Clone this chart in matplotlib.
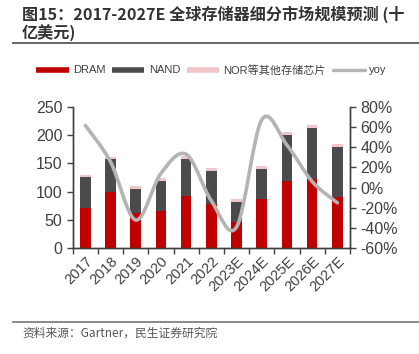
import numpy as np
import matplotlib
matplotlib.use("Agg")
import matplotlib.pyplot as plt
from matplotlib.path import Path
from matplotlib.patches import PathPatch
from matplotlib.lines import Line2D

plt.rcParams['font.family'] = ['Liberation Sans', 'Noto Sans CJK SC', 'DejaVu Sans']

# data (billion USD / yoy %)
years = ['2017', '2018', '2019', '2020', '2021', '2022',
         '2023E', '2024E', '2025E', '2026E', '2027E']
dram = [72, 100, 62, 65, 93, 78, 46, 87, 119, 122, 91]
nand = [53, 58, 43, 54, 65, 58, 35, 53, 81, 90, 88]
nor_other = [4, 4, 4.5, 4.5, 5, 6, 5.5, 5, 5, 5, 5]
yoy = [61.5, 25.6, -32, 14, 33, -13, -39, 67, 42, 6, -15]

c_dram = '#c00000'
c_nand = '#4b4b4d'
c_nor = '#f2c6c9'
c_yoy = '#b4b4b4'
c_txt = '#404040'

fig = plt.figure(figsize=(4.19, 3.54), dpi=100)
ax = fig.add_axes([0.1735, 0.2986, 0.8353 - 0.1735, 0.6986 - 0.2986])
ax2 = ax.twinx()

x = np.arange(len(years))
w = 0.42
dram = np.array(dram, dtype=float)
nand = np.array(nand, dtype=float)
nor_other = np.array(nor_other, dtype=float)
ax.bar(x, dram, w, color=c_dram, zorder=2)
ax.bar(x, nand, w, bottom=dram, color=c_nand, zorder=2)
ax.bar(x, nor_other, w, bottom=dram + nand, color=c_nor, zorder=2)

ax.set_xlim(-0.5, len(years) - 0.5)
ax.set_ylim(0, 250)
ax.set_yticks(range(0, 251, 50))
ax2.set_ylim(-60, 80)
ax2.set_yticks(range(-60, 81, 20))
ax2.set_yticklabels(['%d%%' % v for v in range(-60, 81, 20)])

# smooth yoy curve (Catmull-Rom as cubic bezier, like a spreadsheet smoothed line)
pts = np.column_stack([x, yoy]).astype(float)
n = len(pts)
verts = [pts[0]]
codes = [Path.MOVETO]
for i in range(n - 1):
    p0 = pts[i - 1] if i > 0 else pts[i]
    p1 = pts[i]
    p2 = pts[i + 1]
    p3 = pts[i + 2] if i + 2 < n else pts[i + 1]
    verts += [p1 + (p2 - p0) / 6.0, p2 - (p3 - p1) / 6.0, p2]
    codes += [Path.CURVE4] * 3
curve = PathPatch(Path(verts, codes), facecolor='none', edgecolor=c_yoy,
                  lw=2.6, capstyle='round', zorder=3)
ax2.add_patch(curve)

# ticks: marks between categories, labels centred on bars
ax.set_xticks(np.arange(-0.5, len(years), 1.0))
ax.set_xticklabels([])
ax.set_xticks(x, minor=True)
ax.set_xticklabels(years, minor=True, rotation=45, ha='right', va='top',
                   rotation_mode='anchor', fontsize=10.5, color=c_txt)
ax.tick_params(axis='x', which='minor', length=0, pad=4)
ax.tick_params(axis='x', which='major', length=4, color='#404040', width=1)
ax.tick_params(axis='y', labelsize=11.5, labelcolor=c_txt, length=4,
               color='#404040', width=1)
ax2.tick_params(axis='y', labelsize=11.5, labelcolor=c_txt, length=4,
                color='#404040', width=1)

for a in (ax, ax2):
    a.spines['top'].set_visible(False)
    for s in ('left', 'right', 'bottom'):
        a.spines[s].set_color('#404040')
        a.spines[s].set_linewidth(1)
ax.set_zorder(ax2.get_zorder() - 1)
ax2.patch.set_visible(False)

handles = [Line2D([], [], color=c_dram, lw=4, solid_capstyle='butt'),
           Line2D([], [], color=c_nand, lw=4, solid_capstyle='butt'),
           Line2D([], [], color=c_nor, lw=4, solid_capstyle='butt'),
           Line2D([], [], color=c_yoy, lw=2.4, solid_capstyle='round')]
labels = ['DRAM', 'NAND', 'NOR等其他存储芯片', 'yoy']
fig.legend(handles, labels, loc='center', bbox_to_anchor=(0.505, 1 - 70 / 354),
           ncol=4, frameon=False, fontsize=8, handlelength=2.9,
           handletextpad=0.4, columnspacing=0.6, labelcolor=c_txt)

title_kw = dict(family=['Noto Sans CJK SC'], fontweight='bold', fontsize=11.6,
                color='#333333', va='center', ha='left')
fig.text(22 / 419, 1 - 14.5 / 354, '图15：2017-2027E 全球存储器细分市场规模预测 (十',
         **title_kw)
fig.text(22 / 419, 1 - 33 / 354, '亿美元)', **title_kw)
fig.add_artist(Line2D([13 / 419, 1], [1 - 43 / 354] * 2, color='#666666', lw=1.4))
fig.add_artist(Line2D([13 / 419, 1], [1 - 322 / 354] * 2, color='#777777', lw=1.2))
fig.text(22 / 419, 1 - 333 / 354, '资料来源：Gartner，民生证券研究院',
         family=['Noto Sans CJK SC'], fontsize=8.5, color='#555555',
         va='center', ha='left')

fig.savefig('out.png', dpi=100)
